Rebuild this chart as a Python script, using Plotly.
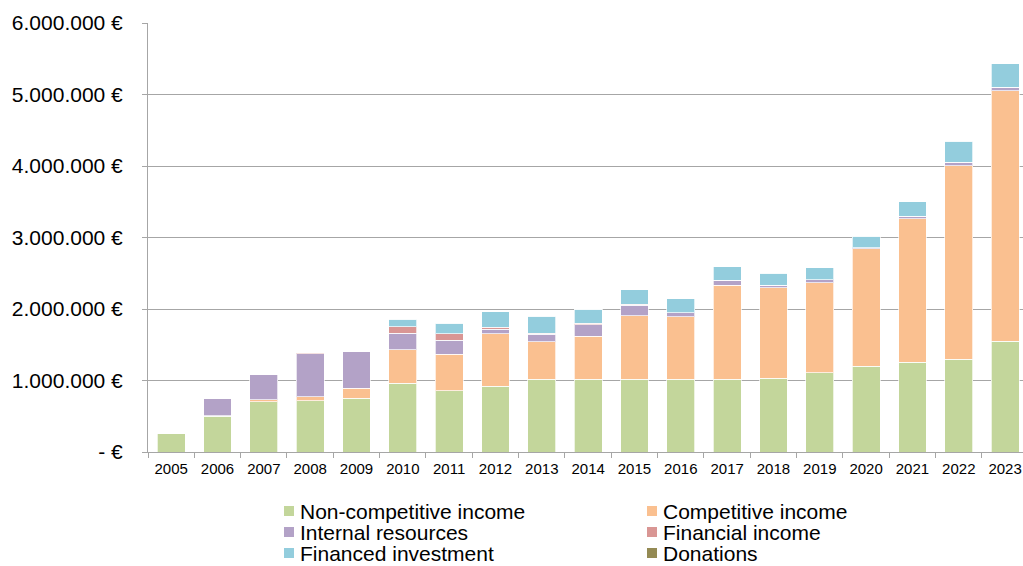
import plotly.graph_objects as go

# Années et séries (valeurs en €)
years = [str(y) for y in range(2005, 2024)]
non_competitive = [260000, 500000, 700000, 720000, 750000, 960000, 860000, 920000, 1017000, 1017000,
                   1020000, 1020000, 1020000, 1030000, 1105000, 1200000, 1255000, 1300000, 1550000]
competitive = [0, 10000, 30000, 50000, 145000, 470000, 510000, 735000, 523000, 603000,
               885000, 870000, 1315000, 1270000, 1265000, 1640000, 2010000, 2705000, 3505000]
internal = [0, 240000, 350000, 605000, 515000, 230000, 190000, 65000, 105000, 160000,
            145000, 60000, 70000, 35000, 40000, 20000, 35000, 45000, 45000]
financial = [0, 0, 0, 10000, 0, 90000, 95000, 25000, 15000, 20000,
             20000, 0, 0, 0, 0, 0, 0, 0, 0]
financed = [0, 0, 0, 0, 0, 110000, 145000, 215000, 240000, 200000,
            200000, 190000, 185000, 165000, 165000, 160000, 200000, 295000, 330000]
donations = [0] * 19

ytick_vals = [0, 1000000, 2000000, 3000000, 4000000, 5000000, 6000000]
ytick_text = ["- €", "1.000.000 €", "2.000.000 €", "3.000.000 €",
              "4.000.000 €", "5.000.000 €", "6.000.000 €"]

series = [
    ("Non-competitive income", non_competitive, "#C3D69B"),
    ("Competitive income", competitive, "#FAC090"),
    ("Internal resources", internal, "#B3A2C7"),
    ("Financial income", financial, "#D99694"),
    ("Financed investment", financed, "#93CDDD"),
    ("Donations", donations, "#948A54"),
]

W, H = 1023, 566
L, R, T, B = 148, 0, 23, 114
PW, PH = W - L - R, H - T - B

def px(x):  # pixel -> paper x
    return (x - L) / PW

def py(y):  # pixel -> paper y
    return (H - B - y) / PH

fig = go.Figure()
for name, vals, col in series:
    fig.add_trace(go.Bar(x=years, y=vals, name=name, showlegend=False,
                         marker=dict(color=col, line=dict(color="rgba(255,255,255,0.7)", width=1)),
                         hovertemplate=name + " — %{x} : %{y:,.0f} €<extra></extra>"))

# légende dessinée à la main (2 colonnes, 3 lignes, interligne serré comme Excel)
col_x = [284, 647]
row_y = [511, 532, 553]
for i, (name, vals, col) in enumerate(series):
    cx, cy = col_x[i % 2], row_y[i // 2]
    fig.add_shape(type="rect", xref="paper", yref="paper",
                  x0=px(cx), x1=px(cx + 10), y0=py(cy + 5), y1=py(cy - 5),
                  fillcolor=col, line=dict(width=0))
    fig.add_annotation(xref="paper", yref="paper", x=px(cx + 14), y=py(cy),
                       xanchor="left", yanchor="middle", showarrow=False,
                       text=name, font=dict(size=21, color="black"))

GRIS = "#a6a6a6"
fig.update_layout(
    barmode="stack", bargap=0.4,
    width=W, height=H,
    paper_bgcolor="white", plot_bgcolor="white",
    font=dict(family="Liberation Sans, Arial, sans-serif", color="black"),
    margin=dict(l=L, r=R, t=T, b=B, autoexpand=False),
    showlegend=False,
)
fig.update_yaxes(range=[0, 6000000], tickvals=ytick_vals, ticktext=ytick_text,
                 tickfont=dict(size=21), showgrid=True, gridcolor=GRIS, gridwidth=1,
                 showline=True, linecolor=GRIS, linewidth=1,
                 ticks="outside", ticklen=5, tickcolor=GRIS, ticklabelstandoff=15,
                 zeroline=False)
fig.update_xaxes(range=[-0.5, 18.386], tickfont=dict(size=15), showline=True,
                 linecolor=GRIS, linewidth=1,
                 ticks="outside", ticklen=5, tickcolor=GRIS, tickson="boundaries",
                 ticklabelstandoff=3, showgrid=False)

# pas de marge de page ni de barres de défilement : la figure occupe toute la fenêtre
fig.write_html("out.html", config={"displayModeBar": False},
               post_script="document.body.style.margin='0';document.body.style.overflow='hidden';")
